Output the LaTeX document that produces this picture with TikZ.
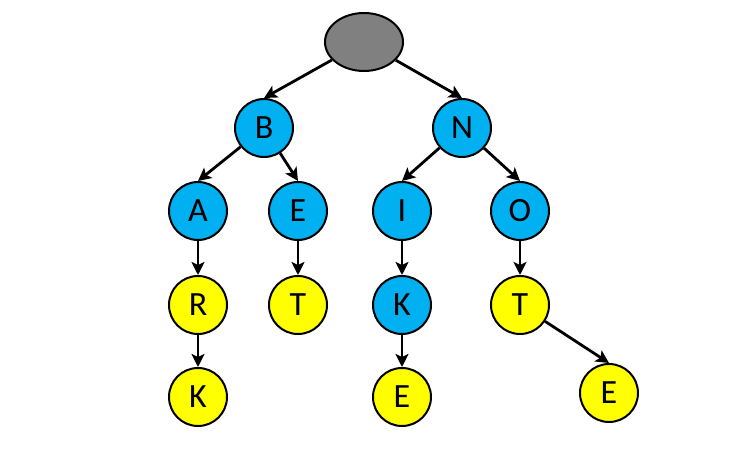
\documentclass[tikz,border=0pt]{standalone}
\usepackage{fontspec}
\setmainfont{Carlito}
\usepackage[dvipsnames]{xcolor}
\usepackage{tikz}
\usetikzlibrary{calc,positioning,shapes,arrows.meta}
\definecolor{trieblue}{HTML}{00B0F0}
\definecolor{trieyellow}{HTML}{FFFF00}
\definecolor{triegray}{HTML}{808080}
\tikzset{
	letter/.style={shape=circle,draw,line width=2pt,minimum size=58pt,inner sep=0pt,font=\fontsize{34}{34}\selectfont},
	inner/.style={letter,fill=trieblue},
	leaf/.style={letter,fill=trieyellow},
	link/.style={line width=2.8pt,-{Stealth[length=13pt,width=13pt,inset=3pt]}}
}
\begin{document}
\begin{tikzpicture}[x=1pt,y=-1pt]
		\useasboundingbox (0,0) rectangle (750,450);
		\node(root) at (364,42) [shape=ellipse,draw,line width=2pt,minimum width=78pt,minimum height=58pt,fill=triegray] {};
		\node(B) at (264,128) [inner] {B};
		\node(N) at (462,128) [inner] {N};
		\node(A) at (198,211) [inner] {A};
		\node(E) at (298,211) [inner] {E};
		\node(I) at (402,211) [inner] {I};
		\node(O) at (520,211) [inner] {O};
		\node(R) [below=34pt of A,leaf] {R};
		\node(T1) [below=34pt of E,leaf] {T};
		\node(K1) [below=34pt of I,inner] {K};
		\node(T2) [below=34pt of O,leaf] {T};
		\node(K2) [below=32pt of R,leaf] {K};
		\node(E2) [below=32pt of K1,leaf] {E};
		\node(E3) at (609,393) [leaf] {E};
		\draw[link] (root) -- (B.north);
		\draw[link] (root) -- (N.north);
		\draw[link] (B) -- (A.north);
		\draw[link] (B) -- (E.north);
		\draw[link] (N) -- (I.north);
		\draw[link] (N) -- (O.north);
		\draw[link] (A) -- (R);
		\draw[link] (E) -- (T1);
		\draw[link] (I) -- (K1);
		\draw[link] (O) -- (T2);
		\draw[link] (R) -- (K2);
		\draw[link] (K1) -- (E2);
		\draw[link] (T2) -- (E3.north);
	\end{tikzpicture}
\end{document}
